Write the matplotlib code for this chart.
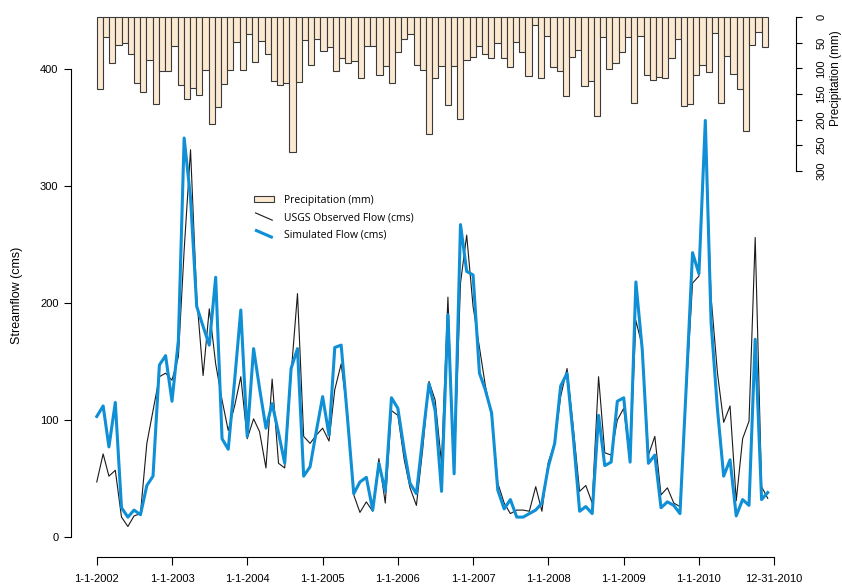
import numpy as np
import pandas as pd
import matplotlib
matplotlib.use('Agg')
import matplotlib.pyplot as plt
import matplotlib.dates as mdates
from matplotlib.lines import Line2D
from matplotlib.patches import Patch
from matplotlib.legend_handler import HandlerBase

plt.rcParams['font.family'] = ['Liberation Sans', 'DejaVu Sans']

# monthly series, Jan 2002 - Dec 2010
dates = pd.date_range('2002-01-01', periods=108, freq='MS')

# USGS observed flow (cms)
obs = [47, 71, 52, 57, 17, 9, 18, 20, 80, 108,
       137, 140, 134, 154, 245, 331, 205, 138, 195, 148,
       117, 91, 112, 137, 84, 101, 90, 59, 135, 63,
       59, 139, 208, 86, 80, 87, 93,
       82, 126, 148, 106, 36, 21, 30, 22, 67, 29,
       108, 104, 66, 42, 27, 74, 133, 117, 63, 205,
       54, 217, 258, 197, 162, 130, 103, 46, 29, 20,
       23, 23, 22, 43, 22, 64,
       80, 120, 144, 94, 39, 44, 29, 137, 72, 70,
       100, 110, 64, 185, 163, 70, 86, 36, 42, 29,
       26, 126, 217, 223, 350, 205, 140, 98, 112, 31,
       84, 99, 256, 43, 33]

# simulated flow (cms)
sim = [103, 112, 77, 115, 25, 17, 23, 19, 44, 52,
       147, 155, 116, 168, 341, 290, 197, 180, 164, 222,
       84, 75, 134, 194, 86, 161, 127, 93, 114, 89,
       63, 144, 161, 52, 60, 90, 120,
       87, 162, 164, 103, 37, 47, 51, 23, 63, 39,
       119, 110, 74, 46, 37, 84, 131, 108, 39, 190,
       54, 267, 227, 224, 140, 126, 106, 40, 24, 32,
       17, 17, 20, 23, 29, 60,
       80, 129, 140, 86, 22, 26, 20, 104, 61, 64,
       116, 119, 64, 218, 160, 63, 70, 25, 30, 27,
       20, 131, 243, 225, 356, 183, 109, 52, 66, 18,
       32, 27, 169, 32, 38]

# monthly precipitation (mm)
precip = [140, 39, 89, 54, 50, 71, 128, 147, 84, 170,
          106, 106, 56, 133, 160, 138, 151, 104, 209, 176,
          131, 103, 48, 104, 33, 88, 46, 71, 125, 132,
          128, 264, 126, 44, 93, 43, 66, 59, 106, 80, 90,
          86, 119, 57, 56, 113, 95, 128, 68, 42, 33,
          93, 104, 228, 118, 95, 172, 95, 198, 84, 77,
          57, 71, 79, 50, 80, 98, 48, 67, 115, 15,
          119, 37, 98, 106, 154, 77, 63, 134, 125,
          193, 38, 102, 89, 68, 38, 168, 37, 112, 123,
          116, 118, 80, 43, 174, 170, 112, 93, 107, 30,
          168, 76, 110, 141, 222, 54, 28, 59]

tick_dates = ['2002-01-01', '2003-01-01', '2004-01-01', '2005-01-01', '2006-01-01',
              '2007-01-01', '2008-01-01', '2009-01-01', '2010-01-01', '2010-12-31']
tick_labels = ['1-1-2002', '1-1-2003', '1-1-2004', '1-1-2005', '1-1-2006',
               '1-1-2007', '1-1-2008', '1-1-2009', '1-1-2010', '12-31-2010']
flow_ticks = [0, 100, 200, 300, 400]
precip_ticks = [0, 50, 100, 150, 200, 250, 300]

xd = mdates.date2num(dates)
xt = mdates.date2num(pd.to_datetime(tick_dates))


class HandlerDiag(HandlerBase):
    # legend key drawn as a short diagonal stroke
    def create_artists(self, legend, orig_handle, xdescent, ydescent,
                       width, height, fontsize, trans):
        ln = Line2D([-xdescent + 0.05 * width, -xdescent + 0.95 * width],
                    [-ydescent + 1.15 * height, -ydescent - 0.15 * height],
                    color=orig_handle.get_color(),
                    linewidth=orig_handle.get_linewidth(),
                    solid_capstyle='butt')
        ln.set_transform(trans)
        return [ln]


fig = plt.figure(figsize=(8.42, 5.86), dpi=100)
ax = fig.add_axes([71 / 842, 29 / 586, 725 / 842, 543 / 586])
ax2 = ax.twinx()

# precipitation bars hanging from the top
bw = (xd[-1] - xd[0]) / len(precip)
lefts = xd[0] + np.arange(len(precip)) * bw
bars = ax2.bar(lefts, precip, width=bw, align='edge', color='#fbe9d2',
               edgecolor='#3a3a3a', linewidth=0.8)
ax2.set_ylim(1055.5, -6.45)

l_obs, = ax.plot(xd, obs, color='#1a1a1a', lw=0.8)
l_sim, = ax.plot(xd, sim, color='#0f8fd5', lw=2.2)

ax.set_zorder(ax2.get_zorder() + 1)
ax.patch.set_visible(False)

ax.set_xlim(xd[0] - 125, xd[0] + 3393)
ax.set_ylim(-17.1, 447)

for a in (ax, ax2):
    for s in a.spines.values():
        s.set_visible(False)

ax.spines['left'].set_visible(True)
ax.spines['left'].set_bounds(0, 400)
ax.spines['bottom'].set_visible(True)
ax.spines['bottom'].set_bounds(xt[0], xt[-1])
ax2.spines['right'].set_visible(True)
ax2.spines['right'].set_bounds(0, 300)

ax.set_xticks(xt)
ax.set_xticklabels(tick_labels)
ax.set_yticks(flow_ticks)
ax.set_yticklabels([str(t) for t in flow_ticks])
ax2.set_yticks(precip_ticks)
ax2.set_yticklabels([str(t) for t in precip_ticks], rotation=90, va='center')

ax.tick_params(axis='x', length=6, width=0.8, pad=6, labelsize=8)
ax.tick_params(axis='y', length=5, width=0.8, pad=4, labelsize=8)
ax2.tick_params(axis='y', length=4.5, width=0.8, pad=10, labelsize=8)

ax.set_ylabel('Streamflow (cms)', fontsize=9)
ax.yaxis.set_label_coords(-0.066, 0.482)
fig.text(835.7 / 842, 1 - 78 / 586, 'Precipitation (mm)', rotation=90,
         ha='center', va='center', fontsize=8.5)

leg = ax.legend([Patch(facecolor='#fbe9d2', edgecolor='#3a3a3a', linewidth=0.8), l_obs, l_sim],
                ['Precipitation (mm)', 'USGS Observed Flow (cms)', 'Simulated Flow (cms)'],
                handler_map={l_obs: HandlerDiag(), l_sim: HandlerDiag()},
                loc='upper left', bbox_to_anchor=(254 / 842, 1 - 195 / 586),
                bbox_transform=fig.transFigure, frameon=False,
                handlelength=1.9, handleheight=0.5, handletextpad=1.0,
                labelspacing=0.6, borderpad=0, borderaxespad=0,
                prop={'family': ['Open Sans', 'DejaVu Sans'], 'size': 7.5})

fig.savefig('out.png', dpi=100)
